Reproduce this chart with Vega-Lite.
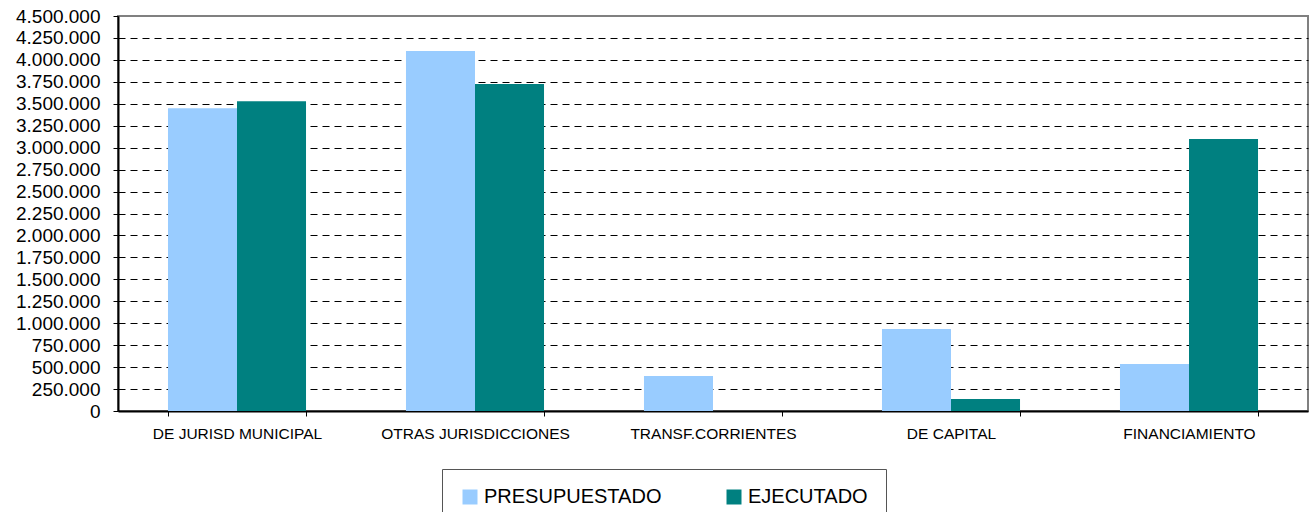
{
  "$schema": "https://vega.github.io/schema/vega-lite/v6.json",
  "width": 1190,
  "height": 395,
  "autosize": {"type": "none"},
  "padding": {"left": 118, "top": 16, "right": 6, "bottom": 101},
  "background": "white",
  "config": {
    "locale": {"number": {"decimal": ",", "thousands": ".", "grouping": [3], "currency": ["$", ""]}},
    "view": {"stroke": "#808080", "strokeWidth": 2},
    "font": "Liberation Sans"
  },
  "data": {
    "values": [
      {"categoria": "DE JURISD MUNICIPAL", "serie": "PRESUPUESTADO", "valor": 3450000},
      {"categoria": "DE JURISD MUNICIPAL", "serie": "EJECUTADO", "valor": 3530000},
      {"categoria": "OTRAS JURISDICCIONES", "serie": "PRESUPUESTADO", "valor": 4100000},
      {"categoria": "OTRAS JURISDICCIONES", "serie": "EJECUTADO", "valor": 3725000},
      {"categoria": "TRANSF.CORRIENTES", "serie": "PRESUPUESTADO", "valor": 400000},
      {"categoria": "TRANSF.CORRIENTES", "serie": "EJECUTADO", "valor": 0},
      {"categoria": "DE CAPITAL", "serie": "PRESUPUESTADO", "valor": 935000},
      {"categoria": "DE CAPITAL", "serie": "EJECUTADO", "valor": 137000},
      {"categoria": "FINANCIAMIENTO", "serie": "PRESUPUESTADO", "valor": 535000},
      {"categoria": "FINANCIAMIENTO", "serie": "EJECUTADO", "valor": 3100000}
    ]
  },
  "mark": {"type": "bar"},
  "encoding": {
    "x": {
      "field": "categoria",
      "type": "nominal",
      "sort": ["DE JURISD MUNICIPAL", "OTRAS JURISDICCIONES", "TRANSF.CORRIENTES", "DE CAPITAL", "FINANCIAMIENTO"],
      "scale": {"paddingInner": 0.42, "paddingOuter": 0.21},
      "axis": {
        "title": null,
        "labelAngle": 0,
        "labelFontSize": 15.5,
        "labelColor": "#000",
        "labelPadding": 10,
        "tickBand": "extent",
        "tickSize": 5,
        "tickColor": "#000",
        "domainColor": "#000",
        "domainWidth": 2,
        "labelLimit": 300
      }
    },
    "xOffset": {
      "field": "serie",
      "type": "nominal",
      "sort": ["PRESUPUESTADO", "EJECUTADO"],
      "scale": {"paddingInner": 0, "paddingOuter": 0}
    },
    "y": {
      "field": "valor",
      "type": "quantitative",
      "scale": {"domain": [0, 4500000], "nice": false},
      "axis": {
        "title": null,
        "values": [0, 250000, 500000, 750000, 1000000, 1250000, 1500000, 1750000, 2000000, 2250000, 2500000, 2750000, 3000000, 3250000, 3500000, 3750000, 4000000, 4250000, 4500000],
        "format": ",d",
        "labelFontSize": 19,
        "labelColor": "#000",
        "labelPadding": 13,
        "tickSize": 5,
        "tickColor": "#000",
        "domainColor": "#000",
        "domainWidth": 2,
        "grid": true,
        "gridColor": "#000",
        "gridDash": [7, 5],
        "gridWidth": 1,
        "gridOpacity": {"condition": {"test": "datum.value == 0 || datum.value == 4500000", "value": 0}, "value": 1}
      }
    },
    "color": {
      "field": "serie",
      "type": "nominal",
      "scale": {"domain": ["PRESUPUESTADO", "EJECUTADO"], "range": ["#99CCFF", "#008080"]},
      "legend": {
        "title": null,
        "orient": "none",
        "direction": "horizontal",
        "legendX": 324,
        "legendY": 453,
        "symbolType": "square",
        "symbolSize": 225,
        "symbolStrokeWidth": 0,
        "labelFontSize": 20,
        "labelColor": "#000",
        "labelOffset": 4,
        "columnPadding": 62,
        "padding": 18,
        "strokeColor": "#555",
        "labelLimit": 400
      }
    }
  }
}
